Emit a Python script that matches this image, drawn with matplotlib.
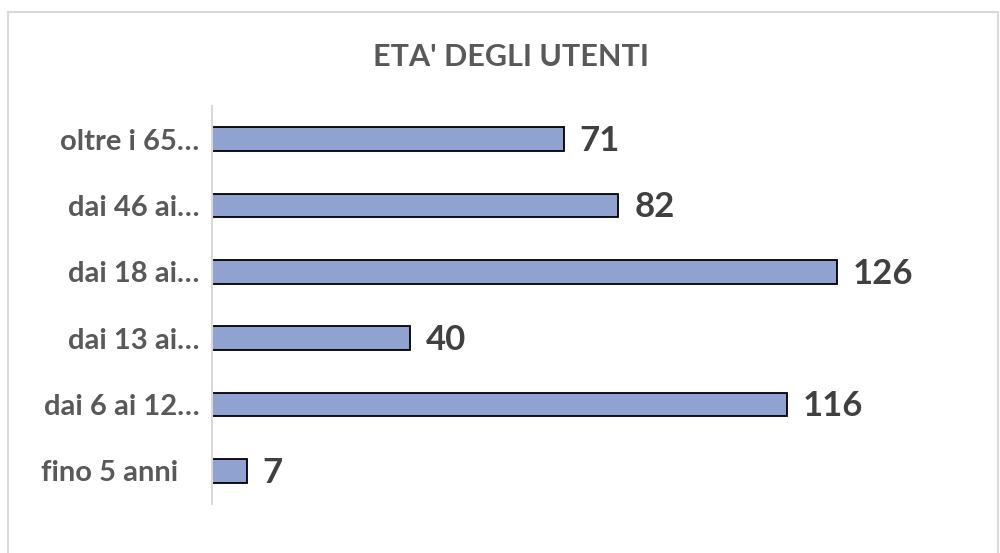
import matplotlib.pyplot as plt
from matplotlib.patches import Rectangle
from matplotlib.transforms import ScaledTranslation

categories = ["fino 5 anni", "dai 6 ai 12…", "dai 13 ai…", "dai 18 ai…", "dai 46 ai…", "oltre i 65…"]
values = [7, 116, 40, 126, 82, 71]

plt.rcParams["font.family"] = ["Lato", "DejaVu Sans"]

fig = plt.figure(figsize=(10, 5.53), dpi=100)
fig.patches.append(Rectangle((0.008, -0.01), 0.99, 0.988, transform=fig.transFigure,
                             fill=False, edgecolor="#d9d9d9", linewidth=1.5))

ax = fig.add_axes([0.212, 1 - 504 / 553, 0.694, 398 / 553])
bars = ax.barh(range(len(values)), values, height=0.36, color="#8FA2D0",
               edgecolor="black", linewidth=1.3)

for bar, v in zip(bars, values):
    ax.text(bar.get_width() + 3.2, bar.get_y() + bar.get_height() / 2 - 0.03, str(v),
            va="center", ha="left", fontsize=25, fontweight="bold", color="#404040")

ax.set_yticks(range(len(categories)))
ax.set_yticklabels(categories, fontsize=21, fontweight="bold", color="#595959")
ax.tick_params(axis="y", length=0, pad=9)
# the unwrapped first label sits a bit further left in the original
lbl = ax.get_yticklabels()[0]
lbl.set_transform(lbl.get_transform() + ScaledTranslation(-0.21, 0, fig.dpi_scale_trans))

ax.set_xlim(0, 140)
ax.set_ylim(-0.5, len(values) - 0.5)
ax.set_xticks([])
for s in ["top", "right", "bottom"]:
    ax.spines[s].set_visible(False)
ax.spines["left"].set_color("#d9d9d9")
ax.spines["left"].set_linewidth(1.5)

fig.text(0.511, 1 - 57 / 553, "ETA' DEGLI UTENTI", ha="center", va="center",
         fontsize=22, fontweight="bold", color="#595959")

fig.savefig("out.png", dpi=100)
